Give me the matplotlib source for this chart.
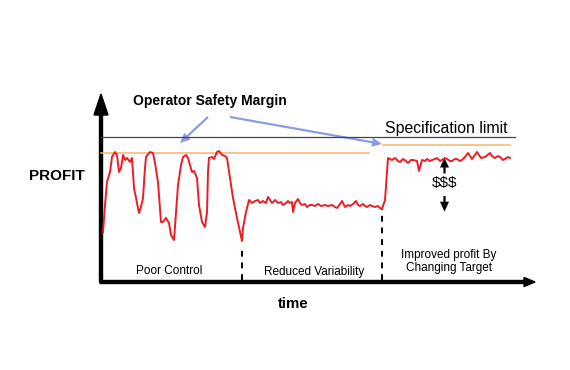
#!/usr/bin/env python3
# -*- coding: utf-8 -*-
"""
Profit vs time sketch: poor control, reduced variability, then moving the target.
Units are roughly pixels of the original drawing, origin at the axis corner.
"""
import matplotlib
matplotlib.use("Agg")
import matplotlib.pyplot as plt

plt.rcParams['font.family'] = ['Liberation Sans', 'DejaVu Sans']

# red profit trace (time, profit)
poor_t = [2, 4, 6, 9, 11, 14, 16, 18, 20, 21, 22, 24, 26, 29, 31, 33, 35, 38, 40, 42,
          44, 45, 49, 52, 54, 57, 60, 62, 65, 68, 70, 73, 75, 77, 80, 82, 85, 87, 91, 93,
          96, 98, 101, 104, 106, 107, 108, 111, 113, 116, 118, 121, 124, 126, 129, 132, 136, 139,
          141, 142, 145, 148, 151, 154]
poor_p = [50, 77, 100, 110, 125, 130, 127, 110, 114, 120, 127, 122, 124, 120, 124, 94, 84, 69, 75, 84,
          114, 125, 130, 129, 119, 100, 60, 60, 64, 59, 47, 42, 70, 97, 117, 125, 127, 124, 110, 111,
          104, 77, 60, 55, 70, 110, 124, 125, 123, 130, 131, 127, 126, 124, 104, 84, 64, 50,
          41, 54, 70, 82, 79, 81]

reduced_t = [157, 159, 162, 165, 167, 169, 171, 174, 177, 180, 182, 185, 187, 189, 191, 192, 194,
             197, 199, 201, 204, 206, 209, 211, 214, 217, 220, 224, 227, 231, 234, 236, 239, 241,
             244, 247, 249, 252, 255, 257, 259, 262, 264, 266, 269, 271, 274, 277, 279, 281, 284]
reduced_p = [82, 79, 81, 79, 85, 82, 79, 82, 79, 80, 77, 79, 81, 79, 80, 70, 79,
             83, 79, 77, 78, 75, 77, 77, 76, 78, 76, 77, 76, 77, 75, 74, 78, 81,
             75, 77, 76, 78, 81, 77, 76, 78, 76, 75, 77, 76, 75, 76, 74, 73, 82]

improved_t = [287, 291, 294, 297, 299, 302, 305, 307, 310, 312, 316, 318, 321, 324, 326, 329, 331,
              334, 336, 339, 341, 344, 346, 349, 351, 354, 356, 359, 361, 364, 367, 371, 376, 380,
              384, 389, 391, 394, 397, 399, 402, 404, 407, 409]
improved_p = [124, 122, 124, 121, 120, 123, 121, 119, 122, 122, 121, 111, 122, 121, 123, 121, 122,
              123, 124, 121, 122, 124, 123, 121, 121, 123, 123, 121, 122, 125, 129, 123, 130, 124,
              125, 129, 126, 124, 126, 125, 122, 123, 125, 124]

# reference levels
spec_limit = 145
margin_old = 129.5
margin_new = 137
phase_breaks = [141, 281]
break_tops = [32, 74]

phase_labels = ["Poor Control", "Reduced Variability", "Improved profit By\nChanging Target"]

fig = plt.figure(figsize=(5.7, 3.7), dpi=100)
ax = fig.add_axes([0, 0, 1, 1])
ax.set_xlim(-101, 469)
ax.set_ylim(-88, 282)
ax.axis('off')

# axes arrows
ax.arrow(0, 0, 0, 188, width=3, head_width=14, head_length=21,
         length_includes_head=True, color='black')
ax.arrow(-1, 0, 435, 0, width=3, head_width=9, head_length=11,
         length_includes_head=True, color='black')

# spec limit and safety margins
ax.plot([0, 414], [spec_limit, spec_limit], color='#444444', lw=0.9)
ax.plot([0, 268], [margin_old, margin_old], color='#F2B56B', lw=1.1)
ax.plot([282, 409], [margin_new, margin_new], color='#F2B56B', lw=1.1)

# phase separators
for xb, top in zip(phase_breaks, break_tops):
    ax.plot([xb, xb], [2, top], color='black', lw=1.4, ls=(0, (3, 3)))

# profit trace
t_all = poor_t + reduced_t + improved_t
p_all = poor_p + reduced_p + improved_p
ax.plot(t_all, p_all, color='#EE1C25', lw=1.4, solid_joinstyle='round')

# blue pointers
blue = '#8A9BE0'
ax.arrow(107, 165, -28, -26, width=2.2, head_width=9, head_length=10,
         length_includes_head=True, color=blue, lw=0)
ax.arrow(129, 165, 152, -27, width=2.2, head_width=9, head_length=10,
         length_includes_head=True, color=blue, lw=0)

# $$$ arrows
ax.arrow(343.5, 108.5, 0, 15.5, width=2.2, head_width=9, head_length=9.5,
         length_includes_head=True, color='black', lw=0)
ax.arrow(343.5, 86, 0, -15.7, width=2.2, head_width=9, head_length=10,
         length_includes_head=True, color='black', lw=0)

# text
ax.text(109, 181, "Operator Safety Margin", fontsize=10, fontweight='bold',
        ha='center', va='center')
ax.text(345, 153, "Specification limit", fontsize=11.4, ha='center', va='center')
ax.text(-44.5, 106, "PROFIT", fontsize=11, fontweight='bold', ha='center', va='center')
ax.text(192.5, -22, "time", fontsize=10.8, fontweight='bold', ha='center', va='center')
ax.text(343.5, 99, "$$$", fontsize=11, ha='center', va='center')
ax.text(68, 11, phase_labels[0], fontsize=8.5, ha='center', va='center')
ax.text(213.5, 10, phase_labels[1], fontsize=8.5, ha='center', va='center')
ax.text(348, 20.5, phase_labels[2], fontsize=8.5, ha='center', va='center', linespacing=1.1)

fig.savefig('out.png', dpi=100)
